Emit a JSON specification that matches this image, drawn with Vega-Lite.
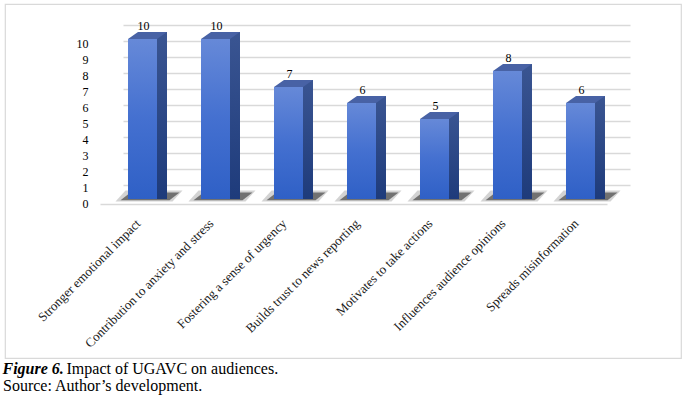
{
  "$schema": "https://vega.github.io/schema/vega-lite/v6.json",
  "width": 676,
  "height": 354,
  "autosize": {"type": "none"},
  "padding": {"left": 5, "top": 4, "right": 12, "bottom": 41},
  "config": {
    "font": "Liberation Serif",
    "axis": {"labelFont": "Liberation Serif", "titleFont": "Liberation Serif"},
    "text": {"font": "Liberation Serif"},
    "title": {"font": "Liberation Serif", "subtitleFont": "Liberation Serif"},
    "view": {"stroke": "#d9d9d9", "strokeWidth": 1.2}
  },
  "title": {
    "text": "Source: Author’s development.",
    "orient": "bottom",
    "anchor": "start",
    "frame": "group",
    "font": "Liberation Serif",
    "fontSize": 16,
    "fontWeight": "normal",
    "color": "#000000",
    "offset": 2,
    "dx": -2
  },
  "data": {
    "values": [
      {"category": "Stronger emotional impact", "value": 10},
      {"category": "Contribution to anxiety and stress", "value": 10},
      {"category": "Fostering a sense of urgency", "value": 7},
      {"category": "Builds trust to news reporting", "value": 6},
      {"category": "Motivates to take actions", "value": 5},
      {"category": "Influences audience opinions", "value": 8},
      {"category": "Spreads misinformation", "value": 6}
    ]
  },
  "encoding": {
    "x": {
      "field": "category",
      "type": "nominal",
      "sort": null,
      "scale": {"type": "band", "range": [118, 625], "paddingInner": 0.6027, "paddingOuter": 0.274, "align": 0.125},
      "axis": {
        "title": "Impact of UGAVC on audiences.",
        "titleX": 84,
        "titleY": 169,
        "titleAlign": "left",
        "titleBaseline": "alphabetic",
        "titleFont": "Liberation Serif",
        "titleFontSize": 16,
        "titleFontWeight": "normal",
        "titleColor": "#000000",
        "labelAngle": -45,
        "labelAlign": "right",
        "labelBaseline": "middle",
        "labelFont": "Liberation Serif",
        "labelFontSize": 13,
        "labelColor": "#1a1a1a",
        "labelPadding": 17,
        "labelOffset": 19,
        "labelLimit": 0,
        "ticks": false,
        "tickSize": 0,
        "domain": true,
        "domainColor": "#d9d9d9",
        "domainWidth": 1.5,
        "offset": -154,
        "position": -23,
        "grid": false
      }
    },
    "y": {
      "field": "value",
      "type": "quantitative",
      "scale": {"domain": [0, 10], "range": [181, 21], "nice": false, "zero": true},
      "axis": {
        "title": "Figure 6.",
        "titleX": -88,
        "titleY": 369,
        "titleAngle": 0,
        "titleAlign": "left",
        "titleBaseline": "alphabetic",
        "titleFont": "Liberation Serif",
        "titleFontSize": 16,
        "titleFontWeight": "bold",
        "titleFontStyle": "italic",
        "titleColor": "#000000",
        "offset": -85,
        "ticks": false,
        "tickSize": 0,
        "domain": false,
        "values": [0, 1, 2, 3, 4, 5, 6, 7, 8, 9, 10],
        "labelFont": "Liberation Serif",
        "labelFontSize": 12,
        "labelColor": "#000000",
        "labelOffset": 18,
        "labelPadding": 2,
        "labelOverlap": false,
        "labelSeparation": 0,
        "grid": true,
        "gridColor": "#d9d9d9",
        "gridWidth": 1.5
      }
    }
  },
  "layer": [
    {
      "mark": {"type": "point", "shape": "M -1.35 0.12 L 1.5 0.12 L 2.0 -0.42 L -0.85 -0.42 Z", "size": 1600, "filled": true, "fill": "#808080", "opacity": 0.35, "strokeWidth": 0, "yOffset": 14},
      "encoding": {"y": {"datum": 0, "type": "quantitative"}}
    },
    {
      "mark": {"type": "point", "shape": "M -1.1 0.06 L 1.35 0.06 L 1.85 -0.32 L -0.6 -0.32 Z", "size": 1600, "filled": true, "fill": "#303030", "opacity": 0.6, "strokeWidth": 0, "yOffset": 14},
      "encoding": {"y": {"datum": 0, "type": "quantitative"}}
    },
    {
      "mark": {
        "type": "bar",
        "yOffset": 14,
        "y2Offset": 14,
        "fill": {"gradient": "linear", "x1": 0, "y1": 0, "x2": 0, "y2": 1, "stops": [
          {"offset": 0, "color": "#6689d8"},
          {"offset": 0.5, "color": "#4470d0"},
          {"offset": 1, "color": "#2f60c6"}
        ]}
      },
      "encoding": {"y2": {"datum": 0}}
    },
    {
      "mark": {
        "type": "bar",
        "width": 10,
        "xOffset": 19.5,
        "yOffset": 7,
        "y2Offset": 14,
        "fill": {"gradient": "linear", "x1": 0, "y1": 0, "x2": 0, "y2": 1, "stops": [
          {"offset": 0, "color": "#3a5592"},
          {"offset": 1, "color": "#1e3b7b"}
        ]}
      },
      "encoding": {"y2": {"datum": 0}}
    },
    {
      "mark": {"type": "point", "shape": "M -0.725 0 L 0.725 0 L 1.225 -0.35 L -0.225 -0.35 Z", "size": 1600, "filled": true, "fill": "#4862a5", "opacity": 1, "strokeWidth": 0, "yOffset": 14}
    },
    {
      "mark": {"type": "text", "baseline": "alphabetic", "align": "center", "fontSize": 12, "font": "Liberation Serif", "fill": "#000000", "yOffset": 5, "xOffset": 1},
      "encoding": {"text": {"field": "value", "type": "quantitative"}}
    }
  ]
}
